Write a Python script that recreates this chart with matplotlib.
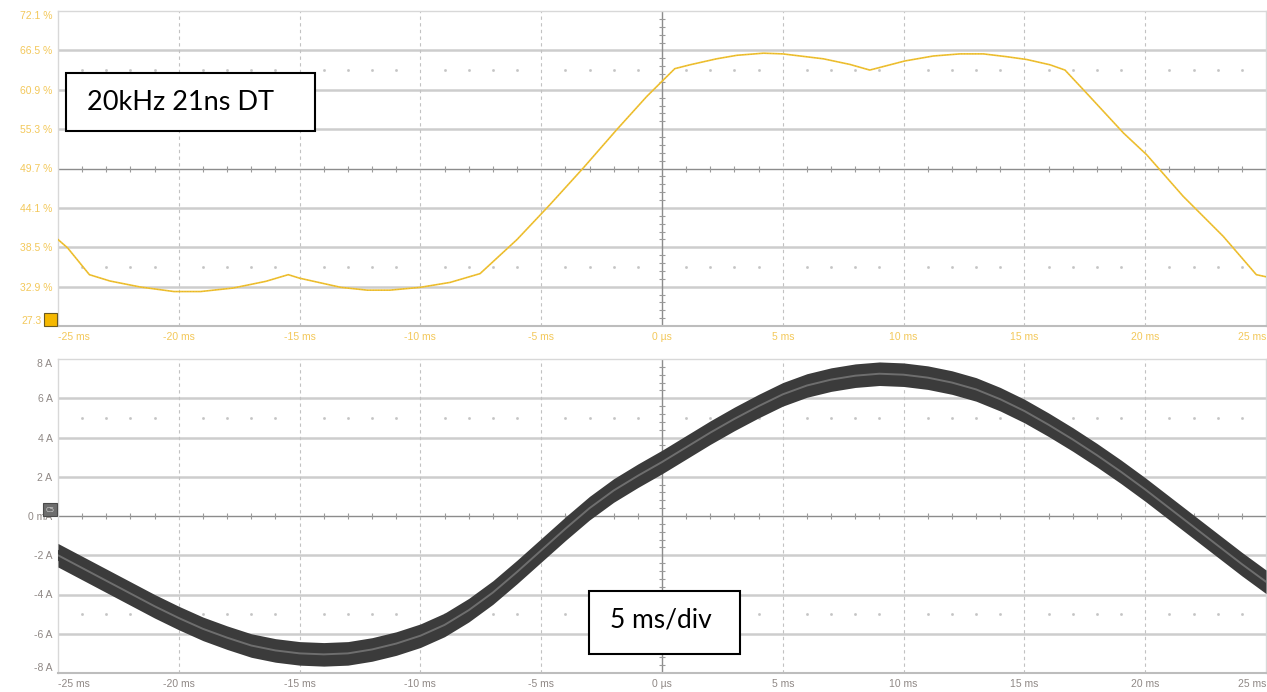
import matplotlib
matplotlib.use("Agg")
import matplotlib.pyplot as plt
from matplotlib.patches import Rectangle

# ---------------- data ----------------
# top trace: duty cycle (%) vs time (ms)
duty_t = [-25.0, -24.6, -23.7, -22.85, -21.6, -20.2, -19.1, -17.75, -16.4, -15.47,
          -15.0, -13.3, -12.2, -11.26, -10.0, -8.77, -7.53, -6.0, -4.64, -3.26,
          -1.88, -0.63, 0.0, 0.53, 1.16, 2.26, 3.1, 4.2, 5.0, 6.68,
          7.78, 8.6, 9.16, 10.06, 11.23, 12.33, 13.3, 14.27, 15.1, 16.06,
          16.68, 17.7, 19.1, 20.06, 21.57, 23.23, 24.6, 25.0]
duty_pct = [39.6, 38.4, 34.6, 33.7, 32.85, 32.2, 32.2, 32.7, 33.65, 34.6,
            34.1, 32.8, 32.4, 32.4, 32.8, 33.5, 34.75, 39.6, 44.55, 49.77,
            55.2, 59.95, 62.1, 63.9, 64.45, 65.3, 65.8, 66.1, 66.0, 65.3,
            64.5, 63.7, 64.2, 65.0, 65.7, 66.0, 66.0, 65.6, 65.2, 64.45,
            63.7, 59.95, 54.75, 51.66, 45.75, 40.05, 34.6, 34.3]

# bottom trace: current (A) vs time (ms)
cur_t = list(range(-25, 26))
cur_a = [-2.0, -2.65, -3.3, -3.95, -4.6, -5.2, -5.75, -6.2, -6.6, -6.85,
         -7.0, -7.05, -7.0, -6.8, -6.5, -6.1, -5.55, -4.8, -3.9, -2.85,
         -1.75, -0.65, 0.4, 1.3, 2.05, 2.75, 3.5, 4.25, 4.95, 5.6,
         6.2, 6.65, 6.95, 7.15, 7.25, 7.2, 7.05, 6.8, 6.45, 5.95,
         5.35, 4.65, 3.9, 3.1, 2.25, 1.35, 0.4, -0.55, -1.5, -2.45, -3.35]

x_ticks = [-25, -20, -15, -10, -5, 0, 5, 10, 15, 20, 25]
x_labels = ["-25 ms", "-20 ms", "-15 ms", "-10 ms", "-5 ms", "0 µs",
            "5 ms", "10 ms", "15 ms", "20 ms", "25 ms"]
top_y_ticks = [27.3, 32.9, 38.5, 44.1, 49.7, 55.3, 60.9, 66.5, 72.1]
top_y_labels = ["27.3", "32.9 %", "38.5 %", "44.1 %", "49.7 %", "55.3 %",
                "60.9 %", "66.5 %", "72.1 %"]
bot_y_ticks = [-8, -6, -4, -2, 0, 2, 4, 6, 8]
bot_y_labels = ["-8 A", "-6 A", "-4 A", "-2 A", "0 mA", "2 A", "4 A", "6 A", "8 A"]

label_top = "20kHz 21ns DT"
label_bot = "5 ms/div"

# ---------------- style ----------------
W, H = 1267, 692
TICK_FONT = ["Liberation Sans Narrow", "Liberation Sans", "DejaVu Sans"]
YELLOW = "#F1C232"
YEL_LBL = "#F3C85A"
GRAY_LBL = "#8f8885"
GRID = "#cdcdcd"
CENTER = "#8c8c8c"
NOISE_HALF = 0.6  # half width of noise band (A)

fig = plt.figure(figsize=(W / 100, H / 100), dpi=100)
fig.patch.set_facecolor("white")


def px_axes(l, t, r, b):
    return fig.add_axes([l / W, 1 - b / H, (r - l) / W, (b - t) / H])


ax1 = px_axes(58, 11, 1266, 326)
ax2 = px_axes(58, 359, 1266, 673)


def scope_grid(ax, yticks, ylabels, ycol, xcol, first_label_offset=None):
    y0, y1 = yticks[0], yticks[-1]
    div = yticks[1] - yticks[0]
    ymid = yticks[len(yticks) // 2]
    ax.set_xlim(x_ticks[0], x_ticks[-1])
    ax.set_ylim(y0, y1)
    for y in yticks[1:-1]:
        if y == ymid:
            ax.axhline(y, color=CENTER, lw=1.0, zorder=1)
        else:
            ax.axhline(y, color=GRID, lw=1.8, zorder=1)
    for x in x_ticks[1:-1]:
        if x == 0:
            ax.axvline(x, color=CENTER, lw=1.0, zorder=1)
        else:
            ax.axvline(x, color="#c2c2c2", lw=0.8, ls=(0, (3, 3)), zorder=1)
    # dotted rows
    dx = [t for t in range(x_ticks[0] + 1, x_ticks[-1]) if t % 5 != 0]
    for yy in (y1 - 1.5 * div, y1 - 6.5 * div):
        ax.plot(dx, [yy] * len(dx), ls="none", marker="s", ms=0.9,
                color="#c4c4c4", zorder=1)
    # ticks on centre lines
    ax.plot(dx, [ymid] * len(dx), ls="none", marker="|", ms=4,
            mew=0.8, color="#9a9a9a", zorder=1)
    sub = [y0 + k * div / 5 for k in range(1, 40) if k % 5 != 0]
    ax.plot([0] * len(sub), sub, ls="none", marker="_", ms=4,
            mew=0.8, color="#9a9a9a", zorder=1)
    for s in ("top", "right", "left"):
        ax.spines[s].set_color("#d8d8d8")
        ax.spines[s].set_linewidth(1.0)
    ax.spines["bottom"].set_color("#bdbdbd")
    ax.spines["bottom"].set_linewidth(1.5)
    ax.set_xticks(x_ticks)
    ax.set_xticklabels(x_labels)
    ax.set_yticks(yticks)
    labs = list(ylabels)
    if first_label_offset is not None:
        ax.annotate(labs[0], xy=(0, yticks[0]), xycoords=("axes fraction", "data"),
                    xytext=(first_label_offset, 0), textcoords="offset points",
                    ha="right", va="bottom", fontsize=7.5, family=TICK_FONT,
                    color=ycol, annotation_clip=False)
        labs[0] = ""
    ax.set_yticklabels(labs)
    ax.tick_params(length=0, pad=4)
    for lab in ax.get_xticklabels():
        lab.set_fontfamily(TICK_FONT)
        lab.set_fontsize(7.5)
        lab.set_color(xcol)
    for lab in ax.get_yticklabels():
        lab.set_fontfamily(TICK_FONT)
        lab.set_fontsize(7.5)
        lab.set_color(ycol)
    xl = ax.get_xticklabels()
    xl[0].set_ha("left")
    xl[-1].set_ha("right")
    yl = ax.get_yticklabels()
    yl[0].set_va("bottom")
    yl[-1].set_va("top")


scope_grid(ax1, top_y_ticks, top_y_labels, YEL_LBL, YEL_LBL, first_label_offset=-11.5)
scope_grid(ax2, bot_y_ticks, bot_y_labels, GRAY_LBL, GRAY_LBL)

# top trace
ax1.plot(duty_t, duty_pct, color=YELLOW, lw=1.2, zorder=3)
ax1.plot(duty_t, duty_pct, color="#a88320", lw=0.5, alpha=0.45, ls=(0, (1, 3)), zorder=3)

# bottom trace (noisy band)
lo = [v - NOISE_HALF for v in cur_a]
hi = [v + NOISE_HALF for v in cur_a]
ax2.fill_between(cur_t, lo, hi, color="#3b3b3b", lw=0, zorder=3)
ax2.plot(cur_t, cur_a, color="#3b3b3b", lw=7.0, zorder=3, solid_joinstyle="round")
ax2.plot(cur_t, cur_a, color="#6e6e6e", lw=1.4, zorder=4)

# channel markers
fig.add_artist(Rectangle((44 / W, 1 - 326 / H), 13 / W, 13 / H,
                         facecolor="#F5B800", edgecolor="#6b5a20", lw=0.8))
fig.add_artist(Rectangle((43 / W, 1 - 516 / H), 14 / W, 13 / H,
                         facecolor="#6d6d6d", edgecolor="#4a4a4a", lw=0.8))
fig.text(50 / W, 1 - 509.5 / H, "C5", fontsize=5, color="#cfcfcf",
         ha="center", va="center")

# annotation boxes
fig.add_artist(Rectangle((66 / W, 1 - 131 / H), 249 / W, 58 / H,
                         facecolor="white", edgecolor="black", lw=1.5, zorder=10))
fig.text(87 / W, 1 - 103 / H, label_top, fontsize=19.5, family=["Lato", "DejaVu Sans"],
         ha="left", va="center", color="black", zorder=11)
fig.add_artist(Rectangle((589 / W, 1 - 654 / H), 151 / W, 63 / H,
                         facecolor="white", edgecolor="black", lw=1.5, zorder=10))
fig.text(610 / W, 1 - 620 / H, label_bot, fontsize=19, family=["Lato", "DejaVu Sans"],
         ha="left", va="center", color="black", zorder=11)

fig.savefig("out.png", dpi=100, facecolor="white")
